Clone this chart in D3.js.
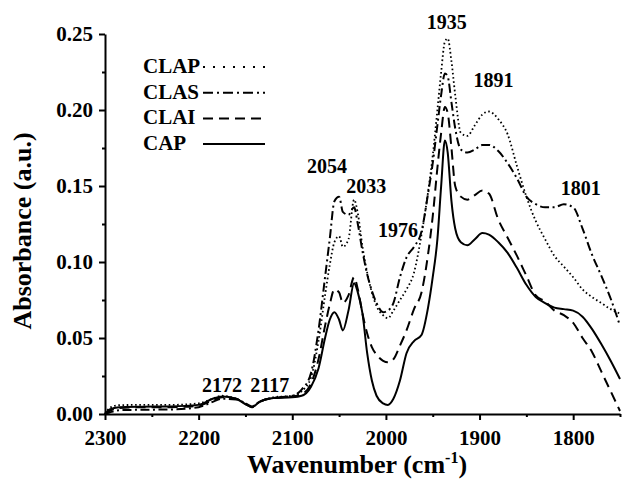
<!DOCTYPE html>
<html>
<head>
<meta charset="utf-8">
<script src="https://cdn.jsdelivr.net/npm/d3@7"></script>
<style>
  body { margin: 0; background: #fff; }
  svg { display: block; }
  text { font-family: "Liberation Serif", "Times New Roman", serif; font-weight: bold; fill: #000; }
</style>
</head>
<body>
<script>
// plot box
var width = 622;
var height = 481;
var plotLeft = 105, plotRight = 620, plotTop = 34, plotBottom = 414;

// wavenumber grid (cm-1) shared by all spectra
var wavenumber = [2300, 2295, 2285, 2260, 2230, 2200, 2185, 2175, 2160, 2150, 2143, 2135, 2120, 2100,
  2090, 2080, 2072, 2065, 2060, 2055, 2050, 2046, 2040, 2034,
  2030, 2025, 2020, 2015, 2010, 2003, 1998, 1992, 1985, 1978,
  1970, 1962, 1955, 1950, 1945, 1941, 1937, 1934, 1930, 1926,
  1920, 1913, 1905, 1897, 1890, 1880, 1870, 1860, 1850, 1840,
  1830, 1820, 1810, 1800, 1790, 1780, 1770, 1760, 1750];

var clap = [0.000, 0.004, 0.0058, 0.006, 0.006, 0.007,
  0.010, 0.012, 0.010, 0.007, 0.005, 0.008, 0.011, 0.012,
  0.015, 0.024, 0.048, 0.078, 0.098, 0.113, 0.117, 0.110, 0.115, 0.141,
  0.132, 0.110, 0.093, 0.080, 0.071, 0.065, 0.063, 0.068, 0.075, 0.082,
  0.093, 0.118, 0.146, 0.170, 0.200, 0.225, 0.245, 0.247, 0.232, 0.210,
  0.185, 0.183, 0.190, 0.197, 0.199, 0.194, 0.184, 0.163, 0.143, 0.127,
  0.115, 0.104, 0.097, 0.090, 0.082, 0.077, 0.073, 0.069, 0.066];

var clas = [0.000, 0.001, 0.0025, 0.0028, 0.003, 0.0045,
  0.008, 0.010, 0.0095, 0.007, 0.005, 0.008, 0.0105, 0.012,
  0.016, 0.027, 0.055, 0.090, 0.115, 0.140, 0.143, 0.133, 0.131, 0.136,
  0.125, 0.107, 0.092, 0.081, 0.073, 0.067, 0.068, 0.073, 0.090, 0.103,
  0.110, 0.120, 0.145, 0.165, 0.190, 0.210, 0.224, 0.222, 0.205, 0.188,
  0.174, 0.172, 0.174, 0.177, 0.177, 0.173, 0.165, 0.155, 0.143, 0.138,
  0.136, 0.136, 0.138, 0.136, 0.122, 0.105, 0.091, 0.076, 0.058];

var clai = [0.000, 0.002, 0.004, 0.0045, 0.0045, 0.0055,
  0.009, 0.011, 0.010, 0.0065, 0.0045, 0.008, 0.0105, 0.0115,
  0.013, 0.020, 0.036, 0.058, 0.072, 0.082, 0.080, 0.073, 0.078, 0.090,
  0.082, 0.066, 0.053, 0.044, 0.039, 0.035, 0.034, 0.036, 0.045, 0.055,
  0.069, 0.080, 0.105, 0.130, 0.162, 0.185, 0.202, 0.198, 0.175, 0.150,
  0.143, 0.141, 0.144, 0.147, 0.145, 0.128, 0.116, 0.104, 0.091, 0.078,
  0.074, 0.068, 0.065, 0.060, 0.050, 0.041, 0.028, 0.015, 0.002];

var cap = [0.000, 0.003, 0.0045, 0.0048, 0.005, 0.006,
  0.010, 0.0115, 0.010, 0.0065, 0.0045, 0.008, 0.0105, 0.011,
  0.012, 0.018, 0.030, 0.050, 0.062, 0.067, 0.062, 0.055, 0.068, 0.086,
  0.080, 0.066, 0.040, 0.022, 0.012, 0.007, 0.006, 0.010, 0.022, 0.040,
  0.048, 0.052, 0.070, 0.090, 0.115, 0.150, 0.180, 0.172, 0.140, 0.122,
  0.113, 0.111, 0.115, 0.119, 0.118, 0.113, 0.106, 0.096, 0.085, 0.077,
  0.073, 0.070, 0.069, 0.068, 0.064, 0.056, 0.046, 0.035, 0.023];

var seriesNames = ["CLAP", "CLAS", "CLAI", "CAP"];
var seriesValues = [clap, clas, clai, cap];
var seriesDash = ["1.6,2.6", "9,3.5,2,3.5", "10,6", null];
var legendDash = ["2,8", "10,4,2,4", "10,6", null];

var xTicks = [2300, 2200, 2100, 2000, 1900, 1800];
var xMinor = [2250, 2150, 2050, 1950, 1850, 1750];
var yTicks = [0.00, 0.05, 0.10, 0.15, 0.20, 0.25];
var yMinor = [0.025, 0.075, 0.125, 0.175, 0.225];

// peak labels: text, anchor wavenumber, label height (absorbance)
var peakText = ["2172", "2117", "2054", "2033", "1976", "1935", "1891", "1801"];
var peakAt = [2175, 2124, 2063, 2021, 1987, 1935, 1885, 1792];
var peakLevel = [0.0145, 0.0145, 0.1586, 0.1454, 0.1164, 0.2533, 0.215, 0.144];

var xScale = d3.scaleLinear().domain([2300, 1750]).range([plotLeft, plotRight]);
var yScale = d3.scaleLinear().domain([0, 0.25]).range([plotBottom, plotTop]);

var svg = d3.select("body").append("svg")
  .attr("width", width)
  .attr("height", height);

function drawAxes() {
  var xAxis = d3.axisBottom(xScale).tickValues(xTicks).tickSize(6).tickSizeOuter(0).tickPadding(10)
    .tickFormat(d3.format("d"));
  svg.append("g").attr("transform", "translate(0," + plotBottom + ")").call(xAxis);
  svg.append("g").attr("transform", "translate(0," + plotBottom + ")")
    .call(d3.axisBottom(xScale).tickValues(xMinor).tickSize(3).tickFormat(""))
    .select(".domain").remove();

  var yAxis = d3.axisLeft(yScale).tickValues(yTicks).tickSize(6).tickSizeOuter(0).tickPadding(6)
    .tickFormat(d3.format(".2f"));
  svg.append("g").attr("transform", "translate(" + plotLeft + ",0)").call(yAxis);
  svg.append("g").attr("transform", "translate(" + plotLeft + ",0)")
    .call(d3.axisLeft(yScale).tickValues(yMinor).tickSize(3).tickFormat(""))
    .select(".domain").remove();

  svg.selectAll(".domain").attr("stroke", "#000").attr("stroke-width", 2);
  svg.selectAll(".tick line").attr("stroke", "#000").attr("stroke-width", 2);
  svg.selectAll(".tick text").attr("font-size", 21)
    .attr("font-family", "'Liberation Serif', 'Times New Roman', serif")
    .attr("font-weight", "bold").attr("fill", "#000");

  // axis titles
  var xt = svg.append("text")
    .attr("x", 357).attr("y", 473)
    .attr("text-anchor", "middle")
    .attr("font-size", 26);
  xt.append("tspan").text("Wavenumber (cm");
  xt.append("tspan").attr("font-size", 16).attr("dy", -10).text("-1");
  xt.append("tspan").attr("dy", 10).text(")");

  svg.append("text")
    .attr("transform", "translate(31,231) rotate(-90)")
    .attr("text-anchor", "middle")
    .attr("font-size", 26)
    .text("Absorbance (a.u.)");
}

function drawSpectra() {
  var line = d3.line()
    .x(function(d, i) { return xScale(wavenumber[i]); })
    .y(function(d) { return yScale(d); })
    .curve(d3.curveMonotoneX);

  svg.selectAll("path.spectrum")
    .data(seriesValues)
    .enter()
    .append("path")
    .attr("class", "spectrum")
    .attr("d", line)
    .attr("fill", "none")
    .attr("stroke", "#000")
    .attr("stroke-width", function(d, i) { return i == 0 ? 1.8 : 2; })
    .attr("stroke-dasharray", function(d, i) { return seriesDash[i]; });
}

function drawLegend() {
  var g = svg.append("g");
  seriesNames.forEach(function(name, i) {
    var base = 73 + i * 25.7;
    g.append("text").attr("x", 143).attr("y", base).attr("font-size", 21).text(name);
    g.append("line")
      .attr("x1", 203).attr("x2", 265)
      .attr("y1", base - 6).attr("y2", base - 6)
      .attr("stroke", "#000")
      .attr("stroke-width", i == 0 ? 1.8 : 2)
      .attr("stroke-dasharray", legendDash[i]);
  });
}

function drawPeaks() {
  svg.selectAll("text.peak")
    .data(peakText)
    .enter()
    .append("text")
    .attr("class", "peak")
    .attr("x", function(d, i) { return xScale(peakAt[i]); })
    .attr("y", function(d, i) { return yScale(peakLevel[i]); })
    .attr("text-anchor", "middle")
    .attr("font-size", 20)
    .text(function(d) { return d; });
}

drawSpectra();
drawAxes();
drawLegend();
drawPeaks();
</script>
</body>
</html>
